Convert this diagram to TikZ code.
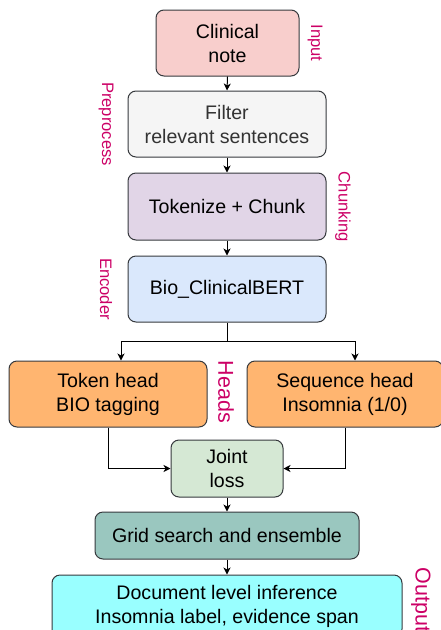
\documentclass[tikz,border=0pt]{standalone}
\usepackage{fontspec}
\setmainfont{Liberation Sans}
\usetikzlibrary{arrows.meta}
\definecolor{strokec}{HTML}{36393D}
\definecolor{labelc}{HTML}{CC0066}
\definecolor{fillred}{HTML}{F8CECC}
\definecolor{fillgray}{HTML}{F5F5F5}
\definecolor{fillpurple}{HTML}{E1D5E7}
\definecolor{fillblue}{HTML}{DAE8FC}
\definecolor{fillorange}{HTML}{FFB570}
\definecolor{fillgreen}{HTML}{D5E8D4}
\definecolor{filltea}{HTML}{9AC7BF}
\definecolor{fillcyan}{HTML}{99FFFF}
\tikzset{
  box/.style={draw=strokec, line width=1pt, rounded corners=8pt, align=center,
    inner sep=0pt, font=\fontsize{19.6}{24}\selectfont, text=black},
  conn/.style={draw=black, line width=1pt, -{Stealth[length=7pt,width=7pt,inset=2pt]}},
  stagelabel/.style={text=labelc, rotate=-90, inner sep=0pt, font=\fontsize{16.6}{20}\selectfont},
  biglabel/.style={text=labelc, rotate=-90, inner sep=0pt, font=\fontsize{21.5}{26}\selectfont}
}
\begin{document}
\begin{tikzpicture}[x=1pt,y=-1pt]
\useasboundingbox (0,0) rectangle (441,630);
\clip (0,0) rectangle (441,630);
% pipeline boxes
\node[box, fill=fillred, minimum width=143pt, minimum height=66pt] (note) at (227.5,43) {Clinical\\note};
\node[box, fill=fillgray, text=black!80, minimum width=198pt, minimum height=66pt] (filter) at (227,124) {Filter\\relevant sentences};
\node[box, fill=fillpurple, minimum width=198pt, minimum height=67pt] (tok) at (227,206.5) {Tokenize + Chunk};
\node[box, fill=fillblue, minimum width=198pt, minimum height=66pt] (bert) at (227,289) {Bio\_ClinicalBERT};
\node[box, fill=fillorange, minimum width=198pt, minimum height=66pt] (thead) at (108,394) {Token head\\BIO tagging};
\node[box, fill=fillorange, minimum width=196pt, minimum height=66pt] (shead) at (345,394) {Sequence head\\Insomnia (1/0)};
\node[box, fill=fillgreen, minimum width=112pt, minimum height=57pt] (joint) at (227,468.5) {Joint\\loss};
\node[box, fill=filltea, minimum width=264pt, minimum height=47pt] (grid) at (227,535.5) {Grid search and ensemble};
\node[box, fill=fillcyan, minimum width=350pt, minimum height=62pt] (doc) at (227,606) {Document level inference\\Insomnia label, evidence span};
% stage labels
\node[stagelabel] (lin) at (315,43) {Input};
\node[stagelabel] (lpre) at (106,124) {Preprocess};
\node[stagelabel] (lchunk) at (343,207) {Chunking};
\node[stagelabel] (lenc) at (106,289) {Encoder};
\node[biglabel] (lheads) at (226,392) {Heads};
\node[biglabel] (lout) at (421,600) {Output};
% connectors
\draw[conn] (note.south) -- (filter.north);
\draw[conn] (filter.south) -- (tok.north);
\draw[conn] (tok.south) -- (bert.north);
\coordinate (split) at (227,341);
\draw[line width=1pt] (bert.south) -- (split);
\draw[conn] (split) -| ([xshift=13pt]thead.north);
\draw[conn] (split) -| ([xshift=10pt]shead.north);
\draw[conn] (thead.south) |- (joint.west);
\draw[conn] (shead.south) |- (joint.east);
\draw[conn] (joint.south) -- (grid.north);
\draw[conn] (grid.south) -- (doc.north);
\end{tikzpicture}
\end{document}
